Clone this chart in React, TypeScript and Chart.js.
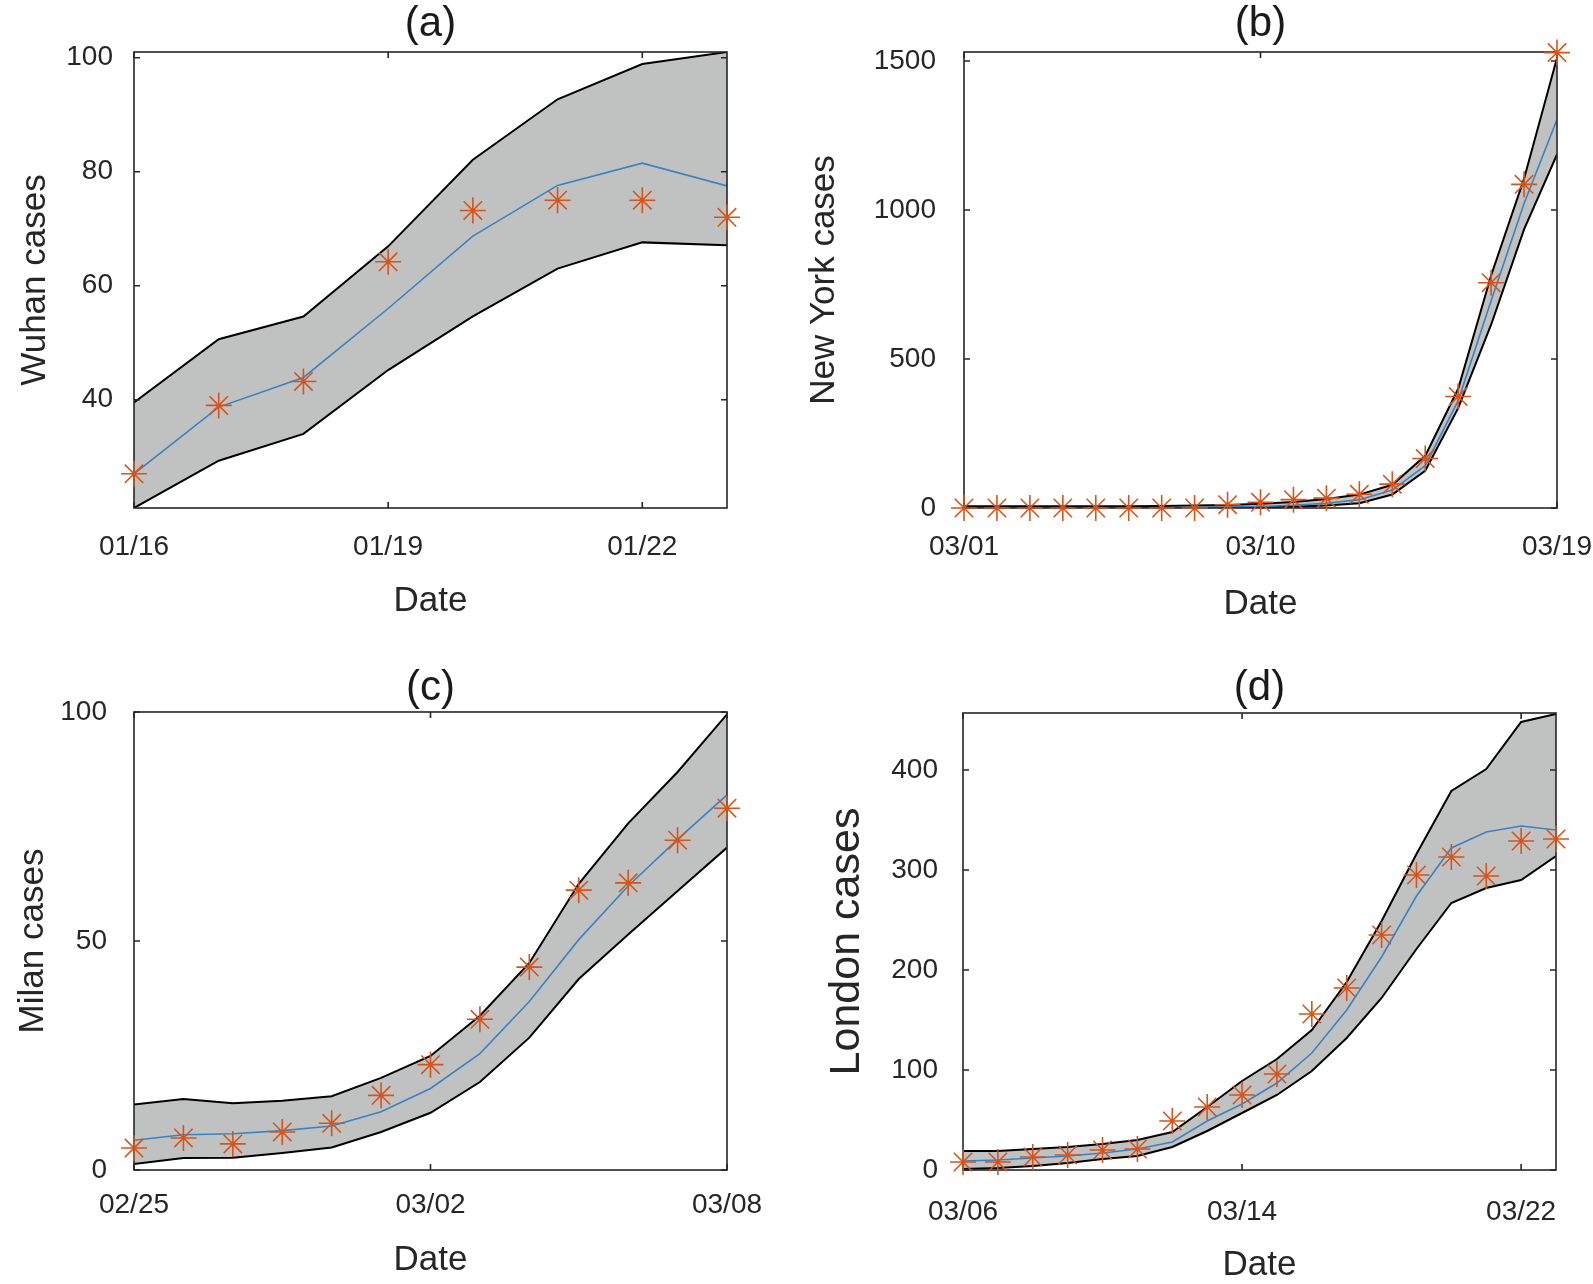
import React, { useEffect, useRef } from "react";
import { Chart, registerables } from "chart.js";

Chart.register(...registerables);

// ---------------- Panel (a): Wuhan ----------------
const wuhanDates = ["01/16", "01/17", "01/18", "01/19", "01/20", "01/21", "01/22", "01/23"];
const wuhanTickIdx = [0, 3, 6];
const wuhanYTicks = [40, 60, 80, 100];
const wuhanObserved = [27.0, 39.0, 43.2, 64.2, 73.2, 75.0, 75.0, 72.0];
const wuhanMean = [27.0, 38.7, 43.9, 56.0, 68.7, 77.6, 81.5, 77.5];
const wuhanUpper = [39.5, 50.6, 54.6, 66.9, 82.1, 92.7, 98.9, 101.0];
const wuhanLower = [21.0, 29.3, 34.0, 45.2, 54.6, 63.0, 67.6, 67.1];

// ---------------- Panel (b): New York ----------------
const nyDates = [
  "03/01", "03/02", "03/03", "03/04", "03/05", "03/06", "03/07", "03/08", "03/09", "03/10",
  "03/11", "03/12", "03/13", "03/14", "03/15", "03/16", "03/17", "03/18", "03/19",
];
const nyTickIdx = [0, 9, 18];
const nyYTicks = [0, 500, 1000, 1500];
const nyObserved = [0, 0, 0, 0, 0, 0, 0, 0, 11, 19, 28, 33, 46, 80, 166, 374, 756, 1086, 1528];
const nyMean = [1, 1, 1, 1, 1, 1, 1, 2, 3, 5, 9, 16, 28, 60, 142, 360, 695, 1022, 1303];
const nyUpper = [6, 6, 6, 6, 6, 6, 7, 8, 10, 14, 20, 30, 45, 78, 175, 400, 780, 1105, 1510];
const nyLower = [0, 0, 0, 0, 0, 0, 0, 0, 1, 2, 4, 8, 16, 45, 125, 335, 615, 935, 1186];

// ---------------- Panel (c): Milan ----------------
const milanDates = [
  "02/25", "02/26", "02/27", "02/28", "02/29", "03/01", "03/02",
  "03/03", "03/04", "03/05", "03/06", "03/07", "03/08",
];
const milanTickIdx = [0, 6, 12];
const milanYTicks = [0, 50, 100];
const milanObserved = [4.8, 7.0, 5.7, 8.3, 10.2, 16.3, 23.0, 32.9, 44.3, 61.1, 62.7, 72.0, 79.0];
const milanMean = [6.5, 7.7, 7.9, 8.6, 9.6, 12.7, 17.8, 25.4, 36.8, 50.3, 62.0, 72.2, 81.9];
const milanUpper = [14.3, 15.5, 14.6, 15.1, 16.1, 20.1, 24.9, 33.7, 45.2, 62.5, 75.7, 86.9, 99.5];
const milanLower = [1.3, 2.6, 2.7, 3.7, 4.9, 8.3, 12.5, 19.2, 28.9, 41.7, 51.4, 60.9, 70.4];

// ---------------- Panel (d): London ----------------
const londonDates = [
  "03/06", "03/07", "03/08", "03/09", "03/10", "03/11", "03/12", "03/13", "03/14",
  "03/15", "03/16", "03/17", "03/18", "03/19", "03/20", "03/21", "03/22", "03/23",
];
const londonTickIdx = [0, 8, 16];
const londonYTicks = [0, 100, 200, 300, 400];
const londonObserved = [8, 8, 13, 15, 20, 21, 49, 63, 75, 96, 156, 182, 235, 295, 313, 294, 329, 331];
const londonMean = [9, 10, 12, 14, 17, 21, 28, 49, 66, 87, 117, 160, 213, 274, 322, 338, 344, 340];
const londonUpper = [19, 19, 21, 23, 26, 30, 38, 63, 89, 111, 140, 188, 249, 316, 379, 401, 448, 456];
const londonLower = [1, 2, 4, 7, 11, 14, 23, 39, 57, 75, 99, 132, 172, 221, 267, 282, 290, 314];

// ---------------- Styles ----------------
const FONT = "'Liberation Sans', Arial, Helvetica, sans-serif";
const TEXT = "#262626";
const STAR = "#D95319";
const BLUE = "#3c82c0";
const BAND_FILL = "#c0c2c2";

interface PanelSpec {
  id: string;
  title: string;
  yLabel: string;
  yLabelSize: number;
  yLabelPad: number;
  dates: string[];
  tickIdx: number[];
  yTicks: number[];
  yMin: number;
  yMax: number;
  observed: number[];
  mean: number[];
  upper: number[];
  lower: number[];
  canvas: { left: number; top: number; width: number; height: number };
  plot: { left: number; right: number; top: number; bottom: number };
  titlePadTop: number;
  xTickPad: number;
  yTickPad: number;
  dateBottomPad: number;
}

const panels: PanelSpec[] = [
  {
    id: "a", title: "(a)", yLabel: "Wuhan cases", yLabelSize: 35, yLabelPad: 18,
    dates: wuhanDates, tickIdx: wuhanTickIdx, yTicks: wuhanYTicks, yMin: 21, yMax: 101,
    observed: wuhanObserved, mean: wuhanMean, upper: wuhanUpper, lower: wuhanLower,
    canvas: { left: 0, top: 0, width: 796, height: 640 },
    plot: { left: 134, right: 727, top: 52, bottom: 508 },
    titlePadTop: 3, xTickPad: 25, yTickPad: 21, dateBottomPad: 21,
  },
  {
    id: "b", title: "(b)", yLabel: "New York cases", yLabelSize: 35, yLabelPad: 11,
    dates: nyDates, tickIdx: nyTickIdx, yTicks: nyYTicks, yMin: 0, yMax: 1530,
    observed: nyObserved, mean: nyMean, upper: nyUpper, lower: nyLower,
    canvas: { left: 796, top: 0, width: 797, height: 640 },
    plot: { left: 168, right: 761, top: 52, bottom: 508 },
    titlePadTop: 3, xTickPad: 25, yTickPad: 28, dateBottomPad: 18,
  },
  {
    id: "c", title: "(c)", yLabel: "Milan cases", yLabelSize: 35, yLabelPad: 16,
    dates: milanDates, tickIdx: milanTickIdx, yTicks: milanYTicks, yMin: 0, yMax: 100,
    observed: milanObserved, mean: milanMean, upper: milanUpper, lower: milanLower,
    canvas: { left: 0, top: 640, width: 796, height: 644 },
    plot: { left: 134, right: 727, top: 72, bottom: 530 },
    titlePadTop: 27, xTickPad: 21, yTickPad: 27, dateBottomPad: 6,
  },
  {
    id: "d", title: "(d)", yLabel: "London cases", yLabelSize: 43, yLabelPad: 30,
    dates: londonDates, tickIdx: londonTickIdx, yTicks: londonYTicks, yMin: 0, yMax: 457,
    observed: londonObserved, mean: londonMean, upper: londonUpper, lower: londonLower,
    canvas: { left: 796, top: 640, width: 797, height: 644 },
    plot: { left: 167, right: 760, top: 73, bottom: 530 },
    titlePadTop: 27, xTickPad: 28, yTickPad: 25, dateBottomPad: 1,
  },
];

// Axis box with inward ticks on all four sides (drawn after the band and mean line,
// before the observation markers).
const framePlugin = {
  id: "matlabFrame",
  afterDatasetDraw(chart: any, args: any) {
    if (args.index !== 1) return;
    const { ctx, chartArea: a, scales } = chart;
    ctx.save();
    ctx.strokeStyle = TEXT;
    ctx.lineWidth = 1.6;
    ctx.strokeRect(a.left, a.top, a.right - a.left, a.bottom - a.top);
    const tl = 6;
    ctx.beginPath();
    for (const t of scales.x.ticks) {
      const px = scales.x.getPixelForValue(t.value);
      ctx.moveTo(px, a.bottom);
      ctx.lineTo(px, a.bottom - tl);
      ctx.moveTo(px, a.top);
      ctx.lineTo(px, a.top + tl);
    }
    for (const t of scales.y.ticks) {
      const py = scales.y.getPixelForValue(t.value);
      ctx.moveTo(a.left, py);
      ctx.lineTo(a.left + tl, py);
      ctx.moveTo(a.right, py);
      ctx.lineTo(a.right - tl, py);
    }
    ctx.stroke();
    ctx.restore();
  },
};

function buildConfig(p: PanelSpec): any {
  const pts = (arr: number[]) => arr.map((y, x) => ({ x, y }));
  return {
    type: "line",
    data: {
      datasets: [
        {
          label: "Observed",
          data: pts(p.observed),
          showLine: false,
          pointStyle: "star",
          pointRadius: 13,
          pointHoverRadius: 13,
          pointBorderColor: STAR,
          pointBackgroundColor: STAR,
          pointBorderWidth: 1.6,
          borderColor: STAR,
          clip: false,
        },
        {
          label: "Mean",
          data: pts(p.mean),
          borderColor: BLUE,
          borderWidth: 1.6,
          pointRadius: 0,
          fill: false,
        },
        {
          label: "Upper",
          data: pts(p.upper),
          borderColor: "#000000",
          borderWidth: 2,
          pointRadius: 0,
          fill: "+1",
          backgroundColor: BAND_FILL,
        },
        {
          label: "Lower",
          data: pts(p.lower),
          borderColor: "#000000",
          borderWidth: 2,
          pointRadius: 0,
          fill: false,
        },
      ],
    },
    options: {
      animation: false,
      responsive: false,
      events: [],
      layout: {
        padding: { left: 0, top: 0, bottom: 0, right: p.canvas.width - p.plot.right },
      },
      plugins: {
        legend: { display: false },
        tooltip: { enabled: false },
        filler: { drawTime: "beforeDatasetsDraw" },
        title: {
          display: true,
          text: p.title,
          fullSize: false,
          color: "#1a1a1a",
          font: { family: FONT, size: 42, lineHeight: 1, weight: "normal" },
          padding: { top: p.titlePadTop, bottom: p.plot.top - p.titlePadTop - 42 },
        },
      },
      scales: {
        x: {
          type: "linear",
          min: 0,
          max: p.dates.length - 1,
          afterBuildTicks: (s: any) => {
            s.ticks = p.tickIdx.map((v) => ({ value: v }));
          },
          afterFit: (s: any) => {
            s.height = p.canvas.height - p.plot.bottom;
            s.paddingLeft = 0;
            s.paddingRight = 0;
          },
          grid: { display: false, drawTicks: false },
          border: { display: false },
          ticks: {
            autoSkip: false,
            maxRotation: 0,
            minRotation: 0,
            padding: p.xTickPad,
            color: TEXT,
            font: { family: FONT, size: 28, lineHeight: 1 },
            callback: (v: any) => p.dates[Math.round(Number(v))] ?? "",
          },
          title: {
            display: true,
            text: "Date",
            color: TEXT,
            font: { family: FONT, size: 35, lineHeight: 1 },
            padding: { top: 0, bottom: p.dateBottomPad },
          },
        },
        y: {
          type: "linear",
          min: p.yMin,
          max: p.yMax,
          afterBuildTicks: (s: any) => {
            s.ticks = p.yTicks.map((v) => ({ value: v }));
          },
          afterFit: (s: any) => {
            s.width = p.plot.left;
            s.paddingTop = 0;
            s.paddingBottom = 0;
          },
          grid: { display: false, drawTicks: false },
          border: { display: false },
          ticks: {
            padding: p.yTickPad,
            color: TEXT,
            font: { family: FONT, size: 28, lineHeight: 1 },
            callback: (v: any) => String(v),
          },
          title: {
            display: true,
            text: p.yLabel,
            color: TEXT,
            font: { family: FONT, size: p.yLabelSize, lineHeight: 1 },
            padding: { top: p.yLabelPad, bottom: 0 },
          },
        },
      },
    },
    plugins: [framePlugin],
  };
}

function Panel({ spec }: { spec: PanelSpec }) {
  const ref = useRef<HTMLCanvasElement | null>(null);
  useEffect(() => {
    if (!ref.current) return;
    const chart = new Chart(ref.current, buildConfig(spec));
    return () => chart.destroy();
  }, [spec]);
  return (
    <canvas
      ref={ref}
      width={spec.canvas.width}
      height={spec.canvas.height}
      style={{
        position: "absolute",
        left: spec.canvas.left,
        top: spec.canvas.top,
        width: spec.canvas.width,
        height: spec.canvas.height,
      }}
    />
  );
}

export default function App() {
  useEffect(() => {
    document.body.style.margin = "0";
    document.body.style.background = "#ffffff";
  }, []);
  return (
    <div
      style={{
        position: "absolute",
        left: 0,
        top: 0,
        width: 1593,
        height: 1284,
        background: "#ffffff",
        overflow: "hidden",
      }}
    >
      {panels.map((p) => (
        <Panel key={p.id} spec={p} />
      ))}
    </div>
  );
}
